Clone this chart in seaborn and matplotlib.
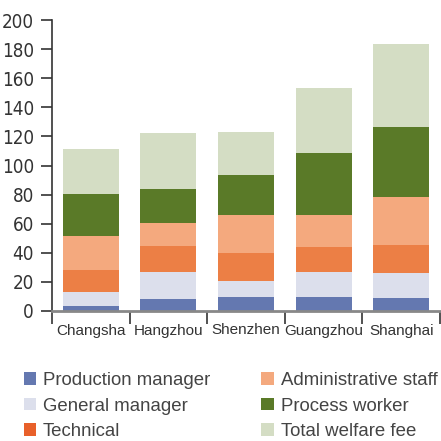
import matplotlib
matplotlib.use("Agg")
import matplotlib.pyplot as plt
from matplotlib.patches import Patch
import numpy as np
import pandas as pd
import seaborn as sns

cities = ["Changsha", "Hangzhou", "Shenzhen", "Guangzhou", "Shanghai"]
series = ["Production manager", "General manager", "Technical",
          "Administrative staff", "Process worker", "Total welfare fee"]
production_manager = [3.4, 8.2, 9.6, 9.6, 8.9]
general_manager = [9.6, 18.6, 11.0, 17.2, 17.2]
technical = [15.2, 17.9, 19.3, 17.2, 19.3]
administrative_staff = [23.3, 15.8, 26.1, 22.0, 33.0]
process_worker = [28.9, 23.3, 27.5, 42.6, 48.1]
total_welfare_fee = [30.9, 38.5, 29.5, 44.7, 57.0]
yticks = [0, 20, 40, 60, 80, 100, 120, 140, 160, 180, 200]

colors = ["#6478B0", "#DCDFEC", "#EC7F45", "#F4A97E", "#5A7A28", "#D4DDC4"]
legend_colors = ["#6478B0", "#DCDFEC", "#E8602A", "#F4A97E", "#5A7A28", "#D4DDC4"]

values = [production_manager, general_manager, technical,
          administrative_staff, process_worker, total_welfare_fee]
df = pd.DataFrame({"city": cities})
cum = np.zeros(len(cities))
for name, v in zip(series, values):
    cum = cum + np.array(v)
    df[name] = cum

sns.set_theme(style="white")
plt.rcParams["font.family"] = ["Liberation Sans", "DejaVu Sans"]
plt.rcParams["ytick.left"] = True
plt.rcParams["xtick.bottom"] = True

fig = plt.figure(figsize=(4.41, 4.41), dpi=100)
ax = fig.add_axes([52/441, 1-311/441, 388/441, 291/441])

for name, c in reversed(list(zip(series, colors))):
    sns.barplot(data=df, x="city", y=name, color=c, width=0.72,
                saturation=1, ax=ax, edgecolor="none", linewidth=0, order=cities)

ax.set_xlim(-0.5, 4.5)
ax.set_ylim(0, 200)
ax.set_yticks(yticks)
ax.set_yticklabels([str(t) for t in yticks], family="DejaVu Sans", stretch="condensed",
                   fontsize=13.5, color="#333333")
ax.set_xticks(range(len(cities)))
ax.set_xticklabels(cities, fontsize=11, color="#333333")
ax.set_xticks(np.arange(-0.5, 5.0, 1.0), minor=True)
ax.tick_params(axis="x", which="major", length=0, pad=9)
ax.tick_params(axis="x", which="minor", bottom=True, length=9, width=1.2, color="#333333", direction="out")
ax.tick_params(axis="y", which="major", left=True, length=8, width=1.2, color="#333333", direction="out", pad=5)
ax.set_xlabel("")
ax.set_ylabel("")
for s in ["top", "right"]:
    ax.spines[s].set_visible(False)
ax.spines["left"].set_color("#333333")
ax.spines["left"].set_linewidth(1.2)
ax.spines["bottom"].set_color("#888888")
ax.spines["bottom"].set_linewidth(2)

handles = [Patch(facecolor=c, edgecolor="none") for c in legend_colors]
fig.legend(handles, series, loc="lower left", bbox_to_anchor=(7/441, -16/441),
           ncol=2, frameon=False, fontsize=13.4, handlelength=0.68, handleheight=0.68,
           handletextpad=0.35, columnspacing=2.75, labelspacing=0.47,
           labelcolor="#444444")

fig.savefig("out.png", dpi=100)
